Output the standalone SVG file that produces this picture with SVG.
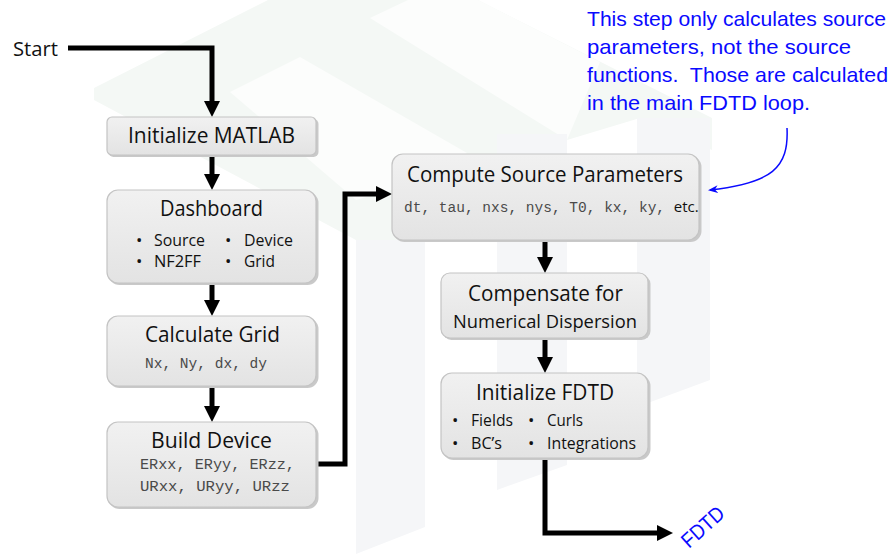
<svg xmlns="http://www.w3.org/2000/svg" width="896" height="554" viewBox="0 0 896 554">
<defs>
<style>
.box{fill:url(#bg);stroke:#c4c4c4;stroke-width:1.2}
.shd{fill:#c9c9c9}
.t{font-family:"Open Sans","Liberation Sans",sans-serif;fill:#111}
.ti{font-size:21px}
.bl{font-size:17px}
.mono{font-family:"Liberation Mono","Courier New",monospace;font-size:14.5px;fill:#4a4a4a}
.blue{font-family:"Liberation Sans","Open Sans",sans-serif;fill:#0a0aff;font-size:21px;white-space:pre}
.con{fill:none;stroke:#000;stroke-width:5;stroke-linejoin:miter}
</style>
<linearGradient id="bg" x1="0" y1="0" x2="0" y2="1">
<stop offset="0" stop-color="#f1f1f1"/>
<stop offset="1" stop-color="#e3e3e3"/>
</linearGradient>
<marker id="ah" markerUnits="userSpaceOnUse" viewBox="0 0 16 16" markerWidth="16" markerHeight="16" refX="2" refY="8" orient="auto">
<path d="M0,0 L16,8 L0,16 z" fill="#000"/>
</marker>
<marker id="bah" markerUnits="userSpaceOnUse" viewBox="0 0 10 8" markerWidth="10" markerHeight="8" refX="8" refY="4" orient="auto">
<path d="M0,0 L10,4 L0,8 L3,4 z" fill="#0a0aff"/>
</marker>
</defs>
<rect width="896" height="554" fill="#fff"/>
<g id="watermark">
<polygon points="94,88 268,0 478,0 712,118 712,150 640,118 567,140 430,240 356,240 94,100" fill="#f4f8f5"/>
<polygon points="230,92 300,57 467,153 425,180 356,200" fill="#fcfdfc"/>
<polygon points="370,18 408,0 478,0 600,62 567,140" fill="#fcfdfc"/>
<polygon points="356,240 425,240 425,527 356,554" fill="#f5f6f8"/>
<polygon points="497,134 567,134 567,465 497,490" fill="#f5f6f8"/>
<polygon points="637,118 710,118 710,380 637,407" fill="#f5f6f8"/>
</g>
<g id="connectors">
<path class="con" d="M68,48 H212 V103" marker-end="url(#ah)"/>
<path class="con" d="M212,155 V176" marker-end="url(#ah)"/>
<path class="con" d="M212,283 V302" marker-end="url(#ah)"/>
<path class="con" d="M212,386 V408" marker-end="url(#ah)"/>
<path class="con" d="M317,464 H345 V194 H378" marker-end="url(#ah)"/>
<path class="con" d="M545,240 V259" marker-end="url(#ah)"/>
<path class="con" d="M545,338 V359" marker-end="url(#ah)"/>
<path class="con" d="M545,458 V533 H659" marker-end="url(#ah)"/>
<path d="M787,128 C789,168 772,183 710,190" fill="none" stroke="#0a0aff" stroke-width="1.5" marker-end="url(#bah)"/>
</g>
<g id="start">
<text class="t" x="13" y="56" font-size="20" textLength="45" lengthAdjust="spacingAndGlyphs">Start</text>
</g>
<g id="initMatlab">
<rect class="shd" x="108.5" y="119" width="210" height="38" rx="5"/>
<rect class="box" x="107" y="117" width="209" height="38" rx="5"/>
<text class="t ti" x="128" y="143" textLength="167" lengthAdjust="spacingAndGlyphs">Initialize MATLAB</text>
</g>
<g id="dashboard">
<rect class="shd" x="108.5" y="192" width="210" height="93" rx="11"/>
<rect class="box" x="107" y="190" width="209" height="93" rx="11"/>
<text class="t ti" x="160" y="216" textLength="103" lengthAdjust="spacingAndGlyphs">Dashboard</text>
<text class="t bl" x="136" y="246">•</text>
<text class="t bl" x="154" y="246" textLength="51" lengthAdjust="spacingAndGlyphs">Source</text>
<text class="t bl" x="225" y="246">•</text>
<text class="t bl" x="244" y="246" textLength="49" lengthAdjust="spacingAndGlyphs">Device</text>
<text class="t bl" x="136" y="267">•</text>
<text class="t bl" x="154" y="267" textLength="47" lengthAdjust="spacingAndGlyphs">NF2FF</text>
<text class="t bl" x="225" y="267">•</text>
<text class="t bl" x="244" y="267" textLength="31" lengthAdjust="spacingAndGlyphs">Grid</text>
</g>
<g id="calcGrid">
<rect class="shd" x="108.5" y="318" width="210" height="70" rx="11"/>
<rect class="box" x="107" y="316" width="209" height="70" rx="11"/>
<text class="t ti" x="145" y="342" textLength="135" lengthAdjust="spacingAndGlyphs">Calculate Grid</text>
<text class="mono" x="145" y="368" textLength="122" lengthAdjust="spacingAndGlyphs">Nx, Ny, dx, dy</text>
</g>
<g id="buildDevice">
<rect class="shd" x="108.5" y="424" width="210" height="85" rx="11"/>
<rect class="box" x="107" y="422" width="209" height="85" rx="11"/>
<text class="t ti" x="151" y="448" textLength="121" lengthAdjust="spacingAndGlyphs">Build Device</text>
<text class="mono" x="140" y="469" textLength="155" lengthAdjust="spacingAndGlyphs">ERxx, ERyy, ERzz,</text>
<text class="mono" x="140" y="491" textLength="150" lengthAdjust="spacingAndGlyphs">URxx, URyy, URzz</text>
</g>
<g id="computeSource">
<rect class="shd" x="393.5" y="156" width="308" height="86" rx="11"/>
<rect class="box" x="392" y="154" width="307" height="86" rx="11"/>
<text class="t ti" x="407" y="182" textLength="276" lengthAdjust="spacingAndGlyphs">Compute Source Parameters</text>
<text x="404" y="212" xml:space="preserve"><tspan class="mono" font-size="12.8">dt, tau, nxs, nys, T0, kx, ky, </tspan><tspan class="t" font-size="15">etc.</tspan></text>
</g>
<g id="compensate">
<rect class="shd" x="442.5" y="275" width="208" height="65" rx="9"/>
<rect class="box" x="441" y="273" width="207" height="65" rx="9"/>
<text class="t ti" x="468" y="301" textLength="155" lengthAdjust="spacingAndGlyphs">Compensate for</text>
<text class="t" x="453" y="328" font-size="19" textLength="184" lengthAdjust="spacingAndGlyphs">Numerical Dispersion</text>
</g>
<g id="initFDTD">
<rect class="shd" x="442.5" y="375" width="208" height="85" rx="11"/>
<rect class="box" x="441" y="373" width="207" height="85" rx="11"/>
<text class="t ti" x="476" y="400" textLength="138" lengthAdjust="spacingAndGlyphs">Initialize FDTD</text>
<text class="t bl" x="452" y="426">•</text>
<text class="t bl" x="471" y="426" textLength="42" lengthAdjust="spacingAndGlyphs">Fields</text>
<text class="t bl" x="528" y="426">•</text>
<text class="t bl" x="547" y="426" textLength="36" lengthAdjust="spacingAndGlyphs">Curls</text>
<text class="t bl" x="452" y="449">•</text>
<text class="t bl" x="471" y="449" textLength="31" lengthAdjust="spacingAndGlyphs">BC’s</text>
<text class="t bl" x="528" y="449">•</text>
<text class="t bl" x="547" y="449" textLength="89" lengthAdjust="spacingAndGlyphs">Integrations</text>
</g>
<g id="note">
<text class="blue" x="587" y="26" textLength="299" lengthAdjust="spacingAndGlyphs">This step only calculates source</text>
<text class="blue" x="587" y="54" textLength="264" lengthAdjust="spacingAndGlyphs">parameters, not the source</text>
<text class="blue" x="587" y="82" textLength="301" lengthAdjust="spacingAndGlyphs">functions.  Those are calculated</text>
<text class="blue" x="587" y="110" textLength="223" lengthAdjust="spacingAndGlyphs">in the main FDTD loop.</text>
</g>
<g id="fdtdLabel">
<text class="blue" font-size="19" x="0" y="0" transform="translate(689,549) rotate(-42)" textLength="50" lengthAdjust="spacingAndGlyphs">FDTD</text>
</g>
</svg>
